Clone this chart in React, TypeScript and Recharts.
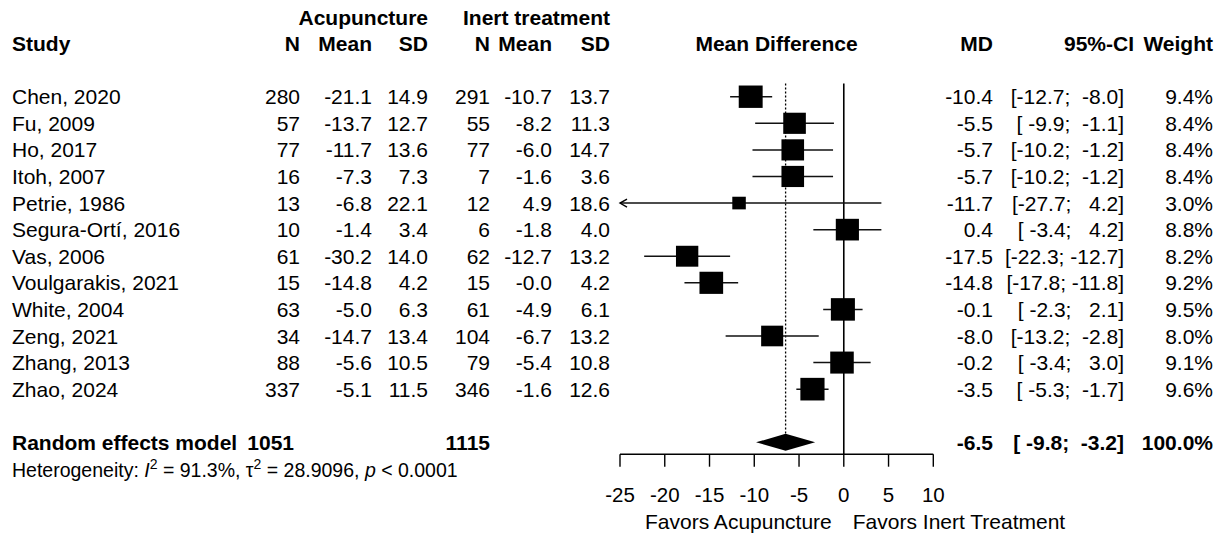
import { ComposedChart, Scatter, XAxis, YAxis, ReferenceLine, ReferenceArea } from "recharts";

const studies = ["Chen, 2020", "Fu, 2009", "Ho, 2017", "Itoh, 2007", "Petrie, 1986", "Segura-Ortí, 2016", "Vas, 2006", "Voulgarakis, 2021", "White, 2004", "Zeng, 2021", "Zhang, 2013", "Zhao, 2024"];
const acuN = [280, 57, 77, 16, 13, 10, 61, 15, 63, 34, 88, 337];
const acuMean = [-21.1, -13.7, -11.7, -7.3, -6.8, -1.4, -30.2, -14.8, -5.0, -14.7, -5.6, -5.1];
const acuSD = [14.9, 12.7, 13.6, 7.3, 22.1, 3.4, 14.0, 4.2, 6.3, 13.4, 10.5, 11.5];
const inertN = [291, 55, 77, 7, 12, 6, 62, 15, 61, 104, 79, 346];
const inertMean = [-10.7, -8.2, -6.0, -1.6, 4.9, -1.8, -12.7, -0.0, -4.9, -6.7, -5.4, -1.6];
const inertSD = [13.7, 11.3, 14.7, 3.6, 18.6, 4.0, 13.2, 4.2, 6.1, 13.2, 10.8, 12.6];
const md = [-10.4, -5.5, -5.7, -5.7, -11.7, 0.4, -17.5, -14.8, -0.1, -8.0, -0.2, -3.5];
const ciLow = [-12.7, -9.9, -10.2, -10.2, -27.7, -3.4, -22.3, -17.8, -2.3, -13.2, -3.4, -5.3];
const ciHigh = [-8.0, -1.1, -1.2, -1.2, 4.2, 4.2, -12.7, -11.8, 2.1, -2.8, 3.0, -1.7];
const weight = [9.4, 8.4, 8.4, 8.4, 3.0, 8.8, 8.2, 9.2, 9.5, 8.0, 9.1, 9.6];

const totalN = [1051, 1115];
const pooled = [-6.5, -9.8, -3.2]; // md, lower, upper
const pooledWeight = 100.0;
const hetI2 = "91.3%";
const hetTau2 = "28.9096";
const hetP = "< 0.0001";
const xTicks = [-25, -20, -15, -10, -5, 0, 5, 10];
const xMin = -25;
const xMax = 10;

const FONT = '"Liberation Sans", Arial, sans-serif';
const FS = 21;
// right edges of the text columns
const COL = { study: 12, n1: 300, mean1: 372, sd1: 428, n2: 490, mean2: 552, sd2: 610, md: 993, ci: 1124, ciHead: 1134, w: 1213, mdHead: 776.5 };

const SUMMARY_ROW = 13;

const f1 = (v: number) => (Object.is(v, -0) ? "-0.0" : v.toFixed(1));
const pad5 = (s: string) => s.padStart(5, " ");
const ciStr = (lo: number, hi: number) => `[${pad5(f1(lo))}; ${pad5(f1(hi))}]`;

const studyRows = studies.map((s, i) => ({ x: md[i], y: i, kind: "study", i }));
const tableRows = [
  { x: 0, y: -3, kind: "group" },
  { x: 0, y: -2, kind: "cols" },
  ...studyRows,
  { x: 0, y: SUMMARY_ROW, kind: "summary" },
];
const arrowRows = studies.map((s, i) => ({ x: xMin, y: i, lo: ciLow[i] })).filter((d) => d.lo < xMin);

function T({ x, y, children, anchor = "end", bold = false, size = FS }: any) {
  return (
    <text x={x} y={y} dy="0.36em" textAnchor={anchor} fontFamily={FONT} fontSize={size} fontWeight={bold ? "bold" : "normal"} fill="#000" style={{ whiteSpace: "pre" }}>
      {children}
    </text>
  );
}

function TableRow(props: any) {
  const { cy, payload } = props;
  const k = payload.kind;
  if (k === "group") {
    return (
      <g>
        <T x={COL.sd1} y={cy} bold>Acupuncture</T>
        <T x={COL.sd2} y={cy} bold>Inert treatment</T>
      </g>
    );
  }
  if (k === "cols") {
    return (
      <g>
        <T x={COL.study} y={cy} anchor="start" bold>Study</T>
        <T x={COL.n1} y={cy} bold>N</T>
        <T x={COL.mean1} y={cy} bold>Mean</T>
        <T x={COL.sd1} y={cy} bold>SD</T>
        <T x={COL.n2} y={cy} bold>N</T>
        <T x={COL.mean2} y={cy} bold>Mean</T>
        <T x={COL.sd2} y={cy} bold>SD</T>
        <T x={COL.mdHead} y={cy} anchor="middle" bold>Mean Difference</T>
        <T x={COL.md} y={cy} bold>MD</T>
        <T x={COL.ciHead} y={cy} bold>95%-CI</T>
        <T x={COL.w} y={cy} bold>Weight</T>
      </g>
    );
  }
  if (k === "study") {
    const i = payload.i;
    return (
      <g>
        <T x={COL.study} y={cy} anchor="start">{studies[i]}</T>
        <T x={COL.n1} y={cy}>{acuN[i]}</T>
        <T x={COL.mean1} y={cy}>{f1(acuMean[i])}</T>
        <T x={COL.sd1} y={cy}>{f1(acuSD[i])}</T>
        <T x={COL.n2} y={cy}>{inertN[i]}</T>
        <T x={COL.mean2} y={cy}>{f1(inertMean[i])}</T>
        <T x={COL.sd2} y={cy}>{f1(inertSD[i])}</T>
        <T x={COL.md} y={cy}>{f1(md[i])}</T>
        <T x={COL.ci} y={cy}>{ciStr(ciLow[i], ciHigh[i])}</T>
        <T x={COL.w} y={cy}>{`${weight[i].toFixed(1)}%`}</T>
      </g>
    );
  }
  // pooled row, heterogeneity line just below it
  const hy = cy + 28;
  return (
    <g>
      <T x={COL.study} y={cy} anchor="start" bold>Random effects model</T>
      <T x={COL.n1 - 6} y={cy} bold>{totalN[0]}</T>
      <T x={COL.n2} y={cy} bold>{totalN[1]}</T>
      <T x={COL.md} y={cy} bold>{f1(pooled[0])}</T>
      <T x={COL.ci} y={cy} bold>{ciStr(pooled[1], pooled[2])}</T>
      <T x={COL.w} y={cy} bold>{`${pooledWeight.toFixed(1)}%`}</T>
      <text x={COL.study} y={hy} dy="0.36em" fontFamily={FONT} fontSize={19.5} fill="#000" style={{ whiteSpace: "pre" }}>
        Heterogeneity: <tspan fontStyle="italic">I</tspan>
        <tspan dy={-8} fontSize={14}>2</tspan>
        <tspan dy={8}>{` = ${hetI2}, τ`}</tspan>
        <tspan dy={-8} fontSize={14}>2</tspan>
        <tspan dy={8}>{` = ${hetTau2}, `}</tspan>
        <tspan fontStyle="italic">p</tspan>
        <tspan>{` ${hetP}`}</tspan>
      </text>
    </g>
  );
}

function Square(props: any) {
  const { cx, cy, payload } = props;
  const s = Math.sqrt(weight[payload.i]);
  const w = 7.8 * s;
  const h = 7.3 * s;
  return <rect x={cx - w / 2} y={cy - h / 2} width={w} height={h} fill="#000" />;
}

function Arrow(props: any) {
  const { cx, cy } = props;
  return <path d={`M${cx + 7},${cy - 4} L${cx},${cy} L${cx + 7},${cy + 4}`} stroke="#000" strokeWidth={1.4} fill="none" />;
}

function Diamond(props: any) {
  const { x, y, width, height } = props;
  const my = y + height / 2;
  const mx = x + width * (pooled[0] - pooled[1]) / (pooled[2] - pooled[1]);
  return <polygon points={`${x},${my} ${mx},${y} ${x + width},${my} ${mx},${y + height}`} fill="#000" />;
}

function FavorsLabel(props: any) {
  const vb = props.viewBox || {};
  const x0 = vb.x;
  const yb = vb.y + vb.height + 75;
  return (
    <g>
      <text x={x0 - 12} y={yb} textAnchor="end" fontFamily={FONT} fontSize={FS} fill="#000">Favors Acupuncture</text>
      <text x={x0 + 9} y={yb} textAnchor="start" fontFamily={FONT} fontSize={FS} fill="#000">Favors Inert Treatment</text>
    </g>
  );
}

export default function App() {
  return (
    <div style={{ position: "absolute", left: 0, top: 0, width: 1223, height: 540, background: "#fff" }}>
      <ComposedChart width={1223} height={540} margin={{ top: 1, right: 289.7, bottom: 25.7, left: 620 }}>
        <XAxis
          dataKey="x"
          type="number"
          domain={[xMin, xMax]}
          ticks={xTicks}
          interval={0}
          height={60}
          tickSize={12.4}
          tickMargin={21}
          axisLine={{ stroke: "#000", strokeWidth: 1.4 }}
          tickLine={{ stroke: "#000", strokeWidth: 1.4 }}
          tick={{ fill: "#000", fontSize: 20.5, fontFamily: FONT }}
        />
        <YAxis dataKey="y" type="number" domain={[-3.6, 13.45]} reversed hide width={0} />
        <ReferenceLine
          segment={[{ x: pooled[0], y: -0.5 }, { x: pooled[0], y: SUMMARY_ROW - 0.32 }]}
          stroke="#000"
          strokeWidth={1.3}
          strokeDasharray="2 2"
          ifOverflow="visible"
        />
        <ReferenceLine
          segment={[{ x: 0, y: -0.5 }, { x: 0, y: 13.45 }]}
          stroke="#000"
          strokeWidth={1.6}
          ifOverflow="visible"
          label={<FavorsLabel />}
        />
        {studies.map((s, i) => (
          <ReferenceLine
            key={s}
            segment={[{ x: Math.max(ciLow[i], xMin), y: i }, { x: Math.min(ciHigh[i], xMax), y: i }]}
            stroke="#111"
            strokeWidth={1.5}
            ifOverflow="visible"
          />
        ))}
        <ReferenceArea
          x1={pooled[1]}
          x2={pooled[2]}
          y1={SUMMARY_ROW - 0.32}
          y2={SUMMARY_ROW + 0.32}
          ifOverflow="visible"
          shape={<Diamond />}
        />
        <Scatter data={studyRows} shape={<Square />} isAnimationActive={false} />
        <Scatter data={arrowRows} shape={<Arrow />} isAnimationActive={false} />
        <Scatter data={tableRows} shape={<TableRow />} isAnimationActive={false} />
      </ComposedChart>
    </div>
  );
}
